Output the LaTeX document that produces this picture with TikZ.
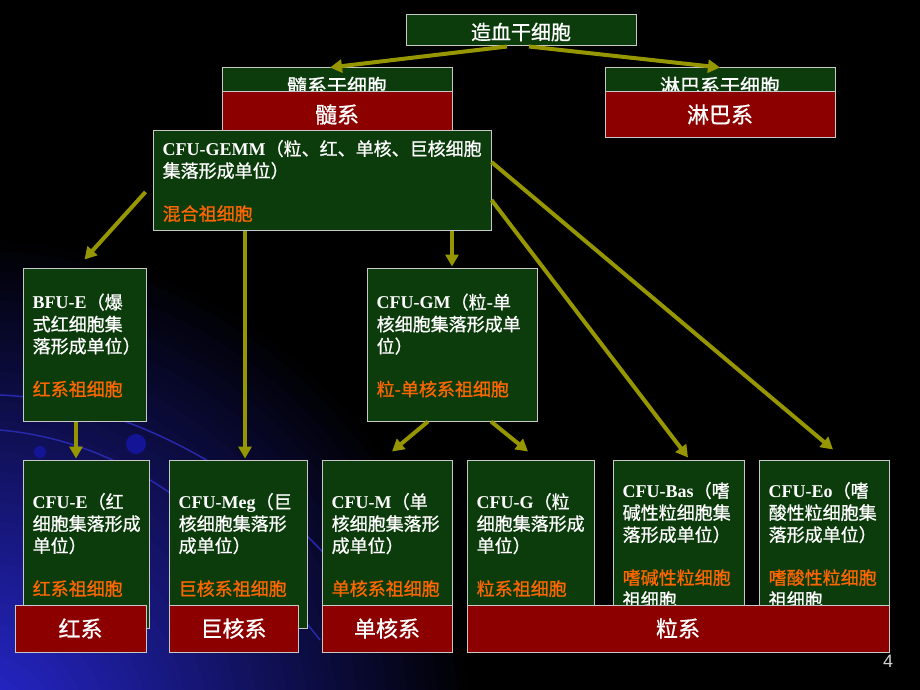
\documentclass[tikz,border=0pt]{standalone}
\usepackage{fontspec}
\setmainfont{Liberation Serif}
\setsansfont{Liberation Sans}
\newfontfamily\cjk[FakeBold=0.9]{Noto Sans CJK SC}
\usetikzlibrary{arrows.meta,calc}
\definecolor{boxgreen}{RGB}{12,60,12}
\definecolor{boxred}{RGB}{140,0,0}
\definecolor{boxborder}{RGB}{200,200,200}
\definecolor{orangetxt}{RGB}{255,102,0}
\definecolor{arrowcol}{RGB}{150,150,0}
\definecolor{bgblue}{RGB}{40,40,215}
\definecolor{curveblue}{RGB}{40,40,170}
\definecolor{dotblue}{RGB}{20,20,150}
\definecolor{pagegray}{RGB}{210,210,210}
\newcommand\lat[1]{{\rmfamily\bfseries #1}}
\begin{document}
\begin{tikzpicture}[x=1pt,y=-1pt,
  gbox/.style={draw=boxborder,line width=1pt,fill=boxgreen,inner sep=0pt},
  rbox/.style={draw=boxborder,line width=1pt,fill=boxred,inner sep=0pt,text=white,
    font=\cjk\fontsize{22}{26}\selectfont},
  txt/.style={inner sep=0pt,anchor=west,align=left,text=white,
    font=\cjk\fontsize{18}{22}\selectfont},
  ttl/.style={text=white,font=\cjk\fontsize{20}{22}\selectfont},
  arr/.style={draw=arrowcol,line width=4pt,-{Triangle[length=12pt,width=13pt]}}]
% background
\fill[black] (0,0) rectangle (920,690);
\useasboundingbox (0,0) rectangle (920,690);
\begin{scope}
  \clip (0,0) rectangle (920,690);
  \foreach \i in {0,...,49} {
    \pgfmathtruncatemacro\pct{100*(\i+1)/50}
    \fill[bgblue!\pct!black] (-30,740) circle ({500-10*\i});
  }
  \draw[curveblue,line width=1.5pt] (0,395) .. controls (120,400) and (250,470) .. (330,560);
  \draw[curveblue,line width=1.5pt] (0,430) .. controls (110,440) and (210,500) .. (320,640);
  \fill[dotblue] (136,444) circle (10);
  \fill[dotblue] (40,452) circle (6);
\end{scope}

% top level
\node[gbox,minimum width=230pt,minimum height=31pt] (hsc) at (521,30.5) {};
\node[ttl] (hsct) at (521,32) {造血干细胞};

\node[gbox,minimum width=230pt,minimum height=34pt] (mys) at (337,85) {};
\node[ttl] (myst) at (337,86) {髓系干细胞};
\node[gbox,minimum width=230pt,minimum height=34pt] (lys) at (720,85) {};
\node[ttl] (lyst) at (720,86) {淋巴系干细胞};

\node[rbox,minimum width=230pt,minimum height=45pt] (myr) at (337,114.5) {髓系};
\node[rbox,minimum width=230pt,minimum height=45pt] (lyr) at (720,114.5) {淋巴系};

% CFU-GEMM
\node[gbox,minimum width=338pt,minimum height=100pt] (gemm) at (322,180) {};
\node[txt] (gemmt) at ($(gemm.west)+(10,1)$) {\lat{CFU-GEMM}（粒、红、单核、巨核细胞\\集落形成单位）\\[21pt]\color{orangetxt}混合祖细胞};

% second level
\node[gbox,minimum width=123pt,minimum height=153pt] (bfue) at (84.5,344.5) {};
\node[txt] (bfuet) at ($(bfue.west)+(10,1)$) {\lat{BFU-E}（爆\\式红细胞集\\落形成单位）\\[21pt]\color{orangetxt}红系祖细胞};

\node[gbox,minimum width=170pt,minimum height=153pt] (cfugm) at (452,344.5) {};
\node[txt] (cfugmt) at ($(cfugm.west)+(10,1)$) {\lat{CFU-GM}（粒-单\\核细胞集落形成单\\位）\\[21pt]\color{orangetxt}粒-单核系祖细胞};

% bottom level
\node[gbox,minimum width=126pt,minimum height=168pt] (cfue) at (86,544) {};
\node[txt] (cfuet) at ($(cfue.west)+(10,1)$) {\lat{CFU-E}（红\\细胞集落形成\\单位）\\[21pt]\color{orangetxt}红系祖细胞};

\node[gbox,minimum width=138pt,minimum height=168pt] (meg) at (238,544) {};
\node[txt] (megt) at ($(meg.west)+(10,1)$) {\lat{CFU-Meg}（巨\\核细胞集落形\\成单位）\\[21pt]\color{orangetxt}巨核系祖细胞};

\node[gbox,minimum width=130pt,minimum height=168pt] (cfum) at (387,544) {};
\node[txt] (cfumt) at ($(cfum.west)+(10,1)$) {\lat{CFU-M}（单\\核细胞集落形\\成单位）\\[21pt]\color{orangetxt}单核系祖细胞};

\node[gbox,minimum width=127pt,minimum height=168pt] (cfug) at (530.5,544) {};
\node[txt] (cfugt) at ($(cfug.west)+(10,1)$) {\lat{CFU-G}（粒\\细胞集落形成\\单位）\\[21pt]\color{orangetxt}粒系祖细胞};

\node[gbox,minimum width=131pt,minimum height=168pt] (bas) at (678.5,544) {};
\node[txt] (bast) at ($(bas.west)+(10,1)$) {\lat{CFU-Bas}（嗜\\碱性粒细胞集\\落形成单位）\\[21pt]\color{orangetxt}嗜碱性粒细胞\\祖细胞};

\node[gbox,minimum width=130pt,minimum height=168pt] (eo) at (824,544) {};
\node[txt] (eot) at ($(eo.west)+(10,1)$) {\lat{CFU-Eo}（嗜\\酸性粒细胞集\\落形成单位）\\[21pt]\color{orangetxt}嗜酸性粒细胞\\祖细胞};

% bottom red labels
\node[rbox,minimum width=131pt,minimum height=47pt] (hong) at (80.5,628.5) {红系};
\node[rbox,minimum width=129pt,minimum height=47pt] (juhe) at (233.5,628.5) {巨核系};
\node[rbox,minimum width=130pt,minimum height=47pt] (danhe) at (387,628.5) {单核系};
\node[rbox,minimum width=422pt,minimum height=47pt] (lixi) at (678,628.5) {粒系};

% page number
\node[text=pagegray,font=\sffamily\fontsize{18}{18}\selectfont] (pg) at (888,661) {4};

% arrows
\draw[arr] ($(hsc.south)+(-14,0)$) -- ($(mys.north)+(-7,0)$);
\draw[arr] ($(hsc.south)+(8,0)$) -- (lys.north);
\draw[arr] ($(gemm.west)+(-7,12)$) -- ($(bfue.north)+(0,-8)$);
\draw[arr] ($(gemm.south)+(-77,0)$) -- ($(meg.north)+(7,-1)$);
\draw[arr] ($(gemm.south)+(130,0)$) -- ($(cfugm.north)+(0,-1)$);
\draw[arr] ($(gemm.east)+(0,20)$) -- ($(bas.north)+(9.5,-2)$);
\draw[arr] ($(gemm.east)+(0,-18)$) -- ($(eo.north)+(9,-10)$);
\draw[arr] ($(bfue.south)+(-8.5,0)$) -- ($(cfue.north)+(-10,-1)$);
\draw[arr] ($(cfugm.south)+(-24,0)$) -- ($(cfum.north)+(5,-8)$);
\draw[arr] ($(cfugm.south)+(39,0)$) -- ($(cfug.north)+(-2.5,-8)$);
\end{tikzpicture}
\end{document}
